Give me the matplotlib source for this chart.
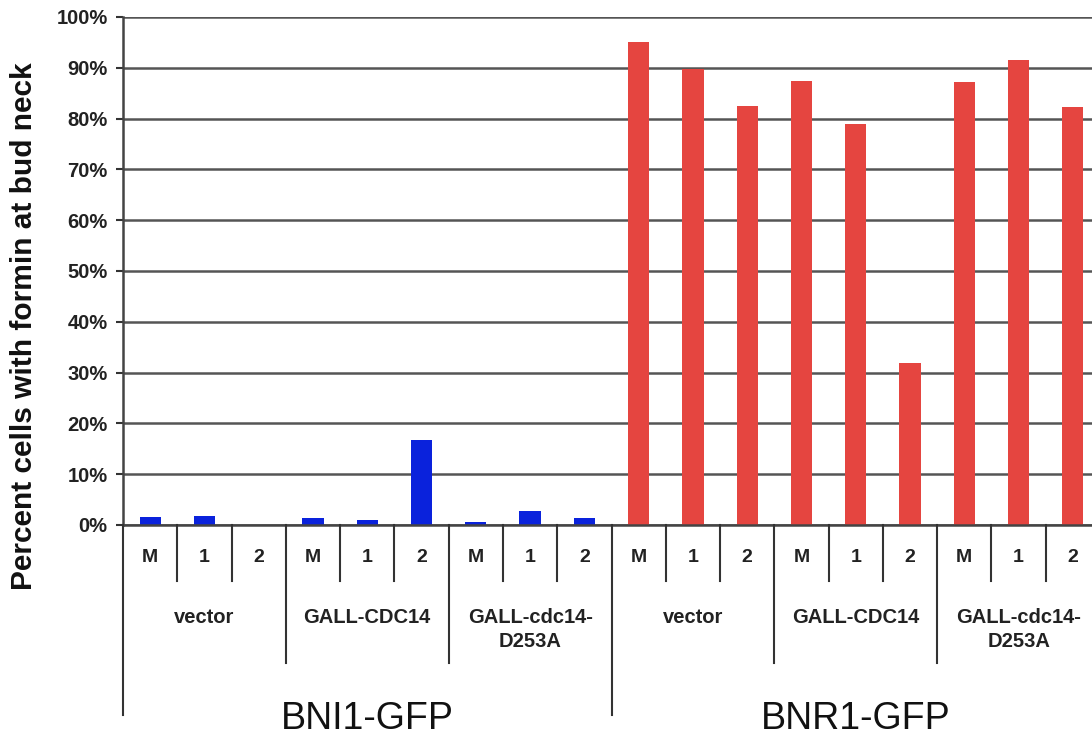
import matplotlib
matplotlib.use("Agg")
import matplotlib.pyplot as plt
import matplotlib.transforms as mtrans
import numpy as np

plt.rcParams['font.family'] = ['Liberation Sans', 'DejaVu Sans']

# ---- data ----
sub_labels = ["M", "1", "2"]
group_labels = ["vector", "GALL-CDC14", "GALL-cdc14-\nD253A"]
top_labels = ["BNI1-GFP", "BNR1-GFP"]
bni1_values = [1.6, 1.8, 0.0, 1.4, 0.9, 16.8, 0.5, 2.8, 1.4]
bnr1_values = [95.1, 89.8, 82.4, 87.4, 79.0, 31.8, 87.3, 91.5, 82.2]
yticks = list(range(0, 101, 10))
ylabel = "Percent cells with formin at bud neck"
colors = {"BNI1-GFP": "#0a22dc", "BNR1-GFP": "#e54540"}

W, H = 1092, 740
fig = plt.figure(figsize=(W / 100, H / 100), dpi=100)
left_px, right_px, top_px, bot_px = 123, 1100, 17, 525
ax = fig.add_axes([left_px / W, 1 - bot_px / H,
                   (right_px - left_px) / W, (bot_px - top_px) / H])

values = bni1_values + bnr1_values
n = len(values)
x = np.arange(n)
bar_colors = [colors[top_labels[0]]] * len(bni1_values) + [colors[top_labels[1]]] * len(bnr1_values)
ax.bar(x, values, width=0.39, color=bar_colors, zorder=3)

ax.set_xlim(-0.5, n - 0.5)
ax.set_ylim(0, 100)
ax.set_yticks(yticks)
ax.set_yticklabels([f"{t}%" for t in yticks], fontsize=14.5, fontweight='bold', color='#222222')
ax.tick_params(axis='y', direction='out', length=5, width=1.5, color='#333333', pad=6)
ax.set_xticks([])
ax.yaxis.grid(True, color='#555555', linewidth=1.8, zorder=1)
ax.set_axisbelow(True)
for s in ['top', 'right']:
    ax.spines[s].set_visible(False)
ax.spines['left'].set_color('#444444')
ax.spines['left'].set_linewidth(1.8)
ax.spines['bottom'].set_color('#444444')
ax.spines['bottom'].set_linewidth(1.8)
ax.spines['bottom'].set_zorder(4)

fig.text(24 / W, 1 - 326 / H, ylabel, rotation=90, ha='center', va='center',
         fontsize=21.5, fontweight='bold', color='#111111')

# ---- hierarchical category axis ----
trans = mtrans.blended_transform_factory(ax.transData, ax.transAxes)
ax_h = bot_px - top_px
def yfrac(px):
    return -(px - bot_px) / ax_h

y_row1, y_row2, y_row3 = yfrac(581), yfrac(663), yfrac(715)
nsub = len(sub_labels)
ngrp = len(group_labels)
per_top = nsub * ngrp

for b in range(0, n):
    xb = b - 0.5
    if b % per_top == 0:
        yb = y_row3
    elif b % nsub == 0:
        yb = y_row2
    else:
        yb = y_row1
    ax.plot([xb, xb], [0, yb], transform=trans, color='#333333', lw=1.5,
            clip_on=False, zorder=5)

for i in range(n):
    ax.text(i, yfrac(558), sub_labels[i % nsub], transform=trans, ha='center',
            va='center', fontsize=14, fontweight='bold', color='#222222')

for g in range(n // nsub):
    cx = g * nsub + (nsub - 1) / 2
    ax.text(cx, yfrac(608), group_labels[g % ngrp], transform=trans, ha='center',
            va='top', fontsize=14.5, fontweight='bold', color='#222222',
            linespacing=1.35)

for t in range(len(top_labels)):
    cx = t * per_top + (per_top - 1) / 2
    ax.text(cx, yfrac(719), top_labels[t], transform=trans, ha='center',
            va='center', fontsize=27, color='#111111')

fig.savefig("out.png", dpi=100)
